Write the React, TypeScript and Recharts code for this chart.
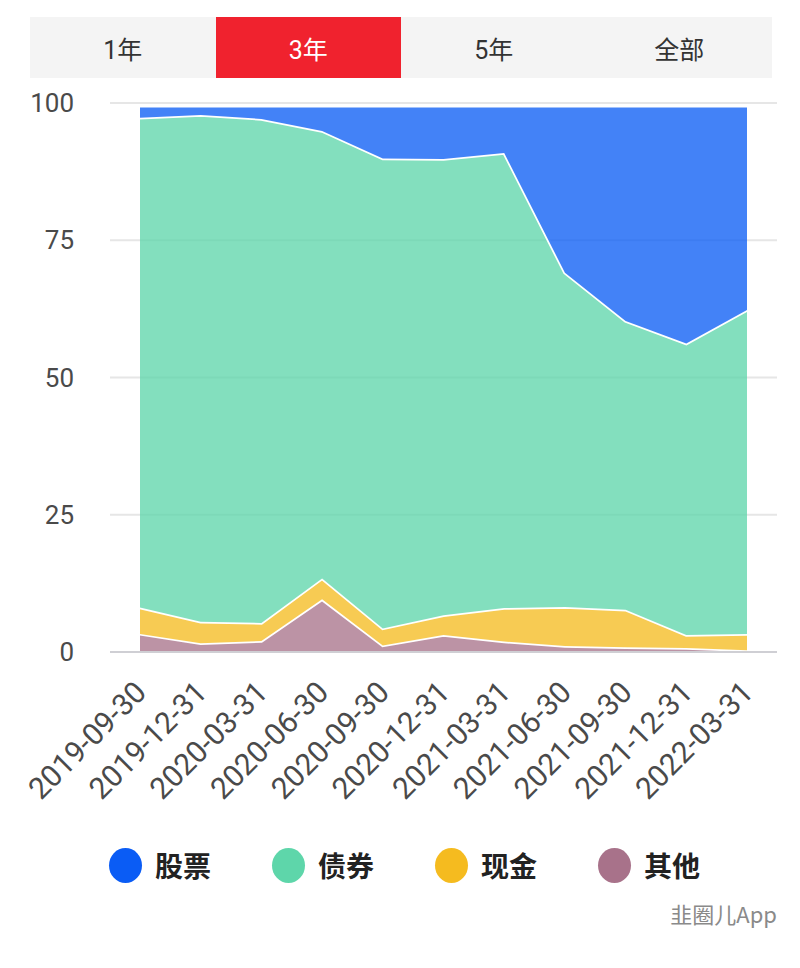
import { AreaChart, Area, XAxis, YAxis, CartesianGrid } from "recharts"

const dates = [
  "2019-09-30", "2019-12-31", "2020-03-31", "2020-06-30", "2020-09-30", "2020-12-31",
  "2021-03-31", "2021-06-30", "2021-09-30", "2021-12-31", "2022-03-31",
]
const stocks = [2.2, 1.7, 2.4, 4.6, 9.6, 9.7, 8.6, 30.4, 39.2, 43.3, 37.2]
const bonds = [89.2, 92.3, 91.8, 81.5, 85.6, 83.1, 82.9, 60.9, 52.6, 53.1, 59.0]
const cash = [4.8, 3.9, 3.3, 3.8, 3.1, 3.6, 6.1, 7.1, 6.85, 2.35, 3.0]
const others = [3.3, 1.6, 2.0, 9.6, 1.2, 3.1, 1.9, 1.1, 0.85, 0.75, 0.3]
const yTicks = [0, 25, 50, 75, 100]
const tabs = ["1年", "3年", "5年", "全部"]

const data = dates.map((d, i) => ({
  date: d,
  stocks: stocks[i],
  bonds: bonds[i],
  cash: cash[i],
  others: others[i],
}))

// drawn bottom to top; legend order is the reverse
const series = [
  { key: "others", name: "其他", color: "#a8728a" },
  { key: "cash", name: "现金", color: "#f5bb1f" },
  { key: "bonds", name: "债券", color: "#5ed6aa" },
  { key: "stocks", name: "股票", color: "#0a5cf5" },
]

const latin = "Roboto, 'Noto Sans CJK SC', sans-serif"

function DateTick({ x, y, payload }: any) {
  return (
    <g transform={`translate(${x + 8},${y + 34})`}>
      <text x={0} y={0} textAnchor="end" transform="rotate(-45)" fill="#4a4a4a" fontSize={30} fontFamily={latin}>
        {payload.value}
      </text>
    </g>
  )
}

export default function App() {
  const legendItems = [...series].reverse()
  return (
    <div style={{ position: "absolute", left: 0, top: 0, width: 800, height: 968, background: "#fff" }}>
      <div
        style={{
          position: "absolute",
          left: 30,
          top: 17,
          width: 742,
          height: 61,
          background: "#f4f4f4",
          display: "flex",
        }}
      >
        {tabs.map((t, i) => (
          <div
            key={t}
            style={{
              flex: 1,
              display: "flex",
              alignItems: "center",
              justifyContent: "center",
              background: i === 1 ? "#f0222e" : "transparent",
              color: i === 1 ? "#fff" : "#333",
              fontSize: 25,
              fontFamily: latin,
            }}
          >
            {t}
          </div>
        ))}
      </div>

      <div style={{ position: "absolute", left: 0, top: 0 }}>
        <AreaChart width={800} height={830} data={data} margin={{ top: 103, right: 23, left: 30, bottom: 28 }}>
          <CartesianGrid vertical={false} stroke="#e6e6e6" strokeWidth={2} />
          <XAxis
            dataKey="date"
            interval={0}
            height={150}
            tick={<DateTick />}
            tickLine={false}
            axisLine={{ stroke: "#cfcfd4", strokeWidth: 2 }}
            padding={{ left: 30, right: 30 }}
          />
          <YAxis
            domain={[0, 100]}
            ticks={yTicks}
            width={80}
            tickSize={0}
            tickMargin={36}
            axisLine={false}
            tickLine={false}
            tick={{ fill: "#4a4a4a", fontSize: 26, fontFamily: latin }}
          />
          {series.map((s) => (
            <Area
              key={s.key}
              type="linear"
              dataKey={s.key}
              name={s.name}
              stackId="1"
              fill={s.color}
              fillOpacity={0.77}
              stroke="#fff"
              strokeWidth={3.5}
              isAnimationActive={false}
            />
          ))}
        </AreaChart>
      </div>

      <div style={{ position: "absolute", left: 109, top: 845, display: "flex" }}>
        {legendItems.map((s) => (
          <div key={s.key} style={{ display: "flex", alignItems: "center", width: 163 }}>
            <span
              style={{ width: 33, height: 35, borderRadius: "50%", background: s.color, display: "inline-block" }}
            />
            <span
              style={{
                marginLeft: 13,
                fontSize: 28,
                fontWeight: 700,
                color: "#222",
                fontFamily: "'Noto Sans CJK SC', sans-serif",
              }}
            >
              {s.name}
            </span>
          </div>
        ))}
      </div>

      <div
        style={{
          position: "absolute",
          right: 23,
          top: 897,
          fontSize: 22,
          color: "#8a8a8a",
          fontFamily: "'Noto Sans CJK SC', sans-serif",
        }}
      >
        韭圈儿App
      </div>
    </div>
  )
}
